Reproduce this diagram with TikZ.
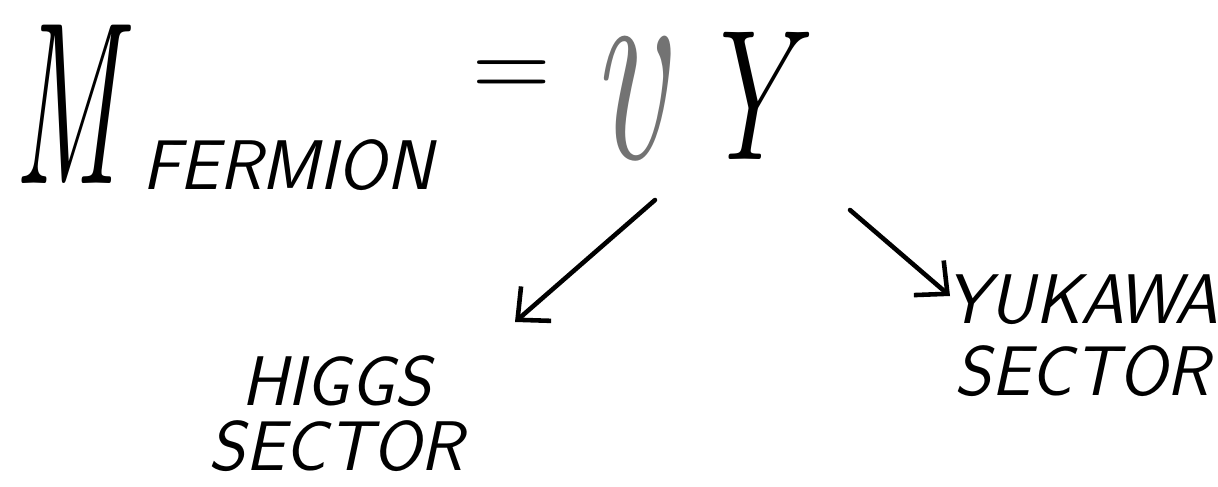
\documentclass[tikz,border=0pt]{standalone}
\usepackage{fontspec}
\usepackage{graphicx}
\usetikzlibrary{arrows.meta}
\tikzset{
  bigsym/.style={inner sep=0pt},
  word/.style={inner sep=0pt, align=center, font=\sffamily\itshape\fontsize{40}{37}\selectfont},
  hand/.style={line width=2.6pt, line cap=round, -{Straight Barb[length=14pt, width=26pt, line width=2.6pt]}}
}
\begin{document}
\begin{tikzpicture}[x=0.02cm, y=-0.02cm]
  \useasboundingbox (0,0) rectangle (1218,487);
  \node[bigsym, font=\fontsize{132}{132}\selectfont\itshape] (m) at (66,104) {\scalebox{0.52}[1]{M}};
  \node[word, anchor=west] (fermion) at (142,165) {FERMION};
  \node[bigsym, font=\fontsize{62}{62}\selectfont] (eq) at (512,80) {=};
  \node[bigsym, text=black!55, font=\fontsize{158}{158}\selectfont\itshape] (v) at (628,99) {\scalebox{0.6}[1]{v}};
  \node[bigsym, font=\fontsize{106}{106}\selectfont\itshape] (y) at (745,96) {\scalebox{0.7}[1]{Y}};
  \node[word] (higgs) at (336,414) {HIGGS\\SECTOR};
  \node[word, font=\sffamily\itshape\fontsize{40}{41}\selectfont] (yukawa) at (1082,336) {YUKAWA\\SECTOR};

  \coordinate (hs) at (655,200);
  \coordinate (he) at (515,322);
  \coordinate (ys) at (850,210);
  \coordinate (ye) at (950,296);

  \draw[hand] (hs) -- (he);
  \draw[hand] (ys) -- (ye);
\end{tikzpicture}
\end{document}
